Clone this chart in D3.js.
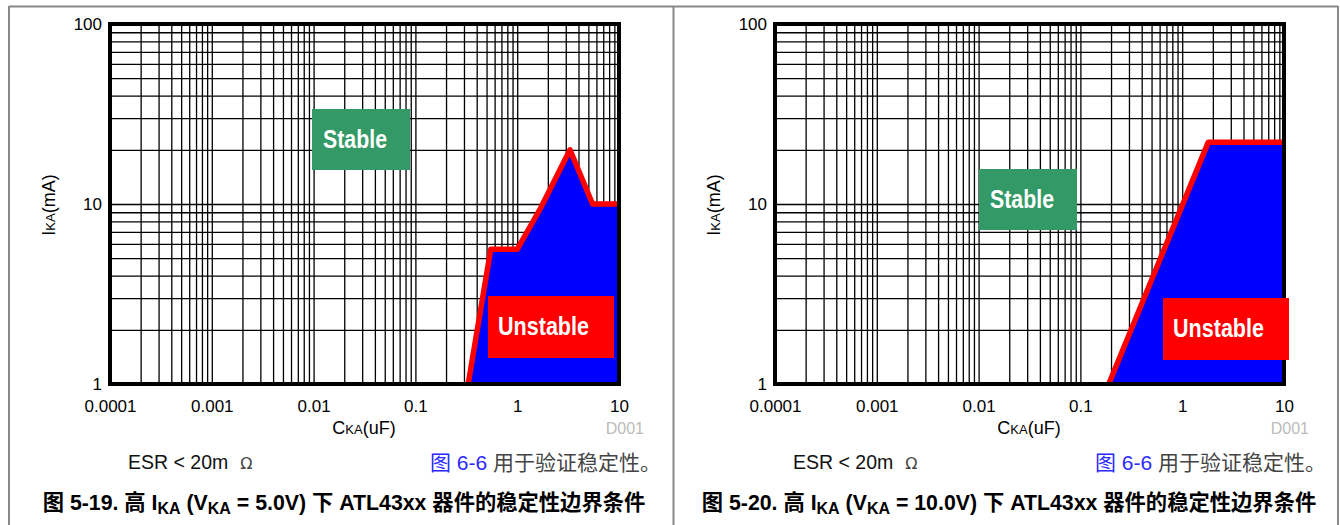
<!DOCTYPE html>
<html>
<head>
<meta charset="utf-8">
<script src="https://cdn.jsdelivr.net/npm/d3@7"></script>
<style>
  html, body { margin: 0; padding: 0; background: #fff; }
  svg { display: block; }
  .sans { font-family: "Liberation Sans", Arial, "Noto Sans CJK SC", sans-serif; }
  .cjk { font-family: "Liberation Sans", Arial, "Noto Sans CJK SC", sans-serif; }
  .narrow { font-family: "Liberation Sans", Arial, sans-serif; font-weight: bold; }
</style>
</head>
<body>
<svg id="chart" width="1340" height="525"></svg>
<script>
// ---- data ----
const capTicks = [0.0001, 0.001, 0.01, 0.1, 1, 10];
const capTickLabels = ["0.0001", "0.001", "0.01", "0.1", "1", "10"];
const ikaTicks = [1, 10, 100];
const ikaTickLabels = ["1", "10", "100"];

// boundary of the unstable region, figure 5-19 (VKA = 5.0V)
const capLeft = [0.33, 0.55, 1.0, 1.7, 3.3, 5.5, 10];
const ikaLeft = [1, 5.6, 5.6, 9.5, 20, 10, 10];

// boundary of the unstable region, figure 5-20 (VKA = 10.0V)
const capRight = [0.19, 0.53, 1.0, 1.8, 10];
const ikaRight = [1, 4.1, 9.8, 22, 22];

const captionNums = ["5-19", "5-20"];
const captionVka = ["5.0V", "10.0V"];

// ---- drawing ----
const svg = d3.select("#chart");

// outer table frame
svg.append("line").attr("x1", 9).attr("x2", 1338).attr("y1", 6.5).attr("y2", 6.5).attr("stroke", "#888").attr("stroke-width", 2);
svg.append("line").attr("x1", 9).attr("x2", 9).attr("y1", 6).attr("y2", 525).attr("stroke", "#888").attr("stroke-width", 2);
svg.append("line").attr("x1", 673.5).attr("x2", 673.5).attr("y1", 6).attr("y2", 525).attr("stroke", "#888").attr("stroke-width", 2);
svg.append("line").attr("x1", 1338).attr("x2", 1338).attr("y1", 6).attr("y2", 525).attr("stroke", "#888").attr("stroke-width", 2);

// minor grid values
const gridX = [];
for (let d = 0.0001; d < 9; d *= 10) for (let k = 1; k <= 9; k++) gridX.push(+(d * k).toPrecision(3));
gridX.push(10);
const gridY = [];
for (let d = 1; d < 90; d *= 10) for (let k = 1; k <= 9; k++) gridY.push(d * k);
gridY.push(100);

function panel(idx, offX, caps, ikas, stableBox, unstableBox) {
  const g = svg.append("g").attr("transform", `translate(${offX},0)`);
  const x = d3.scaleLog().domain([0.0001, 10]).range([110, 619]);
  const y = d3.scaleLog().domain([1, 100]).range([384, 24]);
  const clipId = "clip" + idx;
  g.append("clipPath").attr("id", clipId).append("rect")
    .attr("x", 110).attr("y", 24).attr("width", 509).attr("height", 360);

  // grid
  const gx = g.append("g").attr("transform", "translate(0,384)")
    .call(d3.axisBottom(x).tickValues(gridX).tickSize(-360).tickFormat(""));
  gx.select(".domain").remove();
  gx.selectAll("line").attr("stroke", "#000").attr("stroke-width", 1.3);
  const gy = g.append("g").attr("transform", "translate(110,0)")
    .call(d3.axisLeft(y).tickValues(gridY).tickSize(-509).tickFormat(""));
  gy.select(".domain").remove();
  gy.selectAll("line").attr("stroke", "#000").attr("stroke-width", 1.3);

  // unstable region
  const pts = caps.map((c, i) => [c, ikas[i]]);
  const area = d3.area().x(d => x(d[0])).y0(y(1)).y1(d => y(d[1]));
  g.append("path").datum(pts).attr("d", area).attr("fill", "#0000ff").attr("clip-path", `url(#${clipId})`);
  const line = d3.line().x(d => x(d[0])).y(d => y(d[1]));
  g.append("path").datum(pts).attr("d", line).attr("fill", "none")
    .attr("stroke", "#ff0000").attr("stroke-width", 5.5).attr("stroke-linejoin", "round")
    .attr("clip-path", `url(#${clipId})`);

  // frame
  g.append("rect").attr("x", 110).attr("y", 24).attr("width", 509).attr("height", 360)
    .attr("fill", "none").attr("stroke", "#000").attr("stroke-width", 4);

  // labels boxes
  const sb = g.append("g");
  sb.append("rect").attr("x", stableBox[0]).attr("y", stableBox[1]).attr("width", 98).attr("height", 61).attr("fill", "#339966");
  sb.append("text").attr("class", "narrow").attr("x", stableBox[0] + 11).attr("y", stableBox[1] + 39)
    .attr("font-size", 25).attr("fill", "#fff")
    .attr("textLength", 64).attr("lengthAdjust", "spacingAndGlyphs").text("Stable");
  const ub = g.append("g");
  ub.append("rect").attr("x", unstableBox[0]).attr("y", unstableBox[1]).attr("width", 126).attr("height", 62).attr("fill", "#ff0000");
  ub.append("text").attr("class", "narrow").attr("x", unstableBox[0] + 10).attr("y", unstableBox[1] + 39)
    .attr("font-size", 25).attr("fill", "#fff")
    .attr("textLength", 91).attr("lengthAdjust", "spacingAndGlyphs").text("Unstable");

  // axes labels
  const ax = g.append("g").attr("transform", "translate(0,384)")
    .call(d3.axisBottom(x).tickValues(capTicks).tickSize(0).tickPadding(16)
      .tickFormat((d, i) => capTickLabels[i]));
  ax.select(".domain").remove();
  ax.selectAll("text").attr("class", "sans").attr("font-size", 17).attr("fill", "#000");
  const ay = g.append("g").attr("transform", "translate(110,0)")
    .call(d3.axisLeft(y).tickValues(ikaTicks).tickSize(0).tickPadding(8)
      .tickFormat((d, i) => ikaTickLabels[i]));
  ay.select(".domain").remove();
  ay.selectAll("text").attr("class", "sans").attr("font-size", 17).attr("fill", "#000");

  // axis titles
  const xt = g.append("text").attr("class", "sans").attr("x", 364).attr("y", 434)
    .attr("text-anchor", "middle").attr("font-size", 18);
  xt.append("tspan").text("C");
  xt.append("tspan").attr("font-size", 13).text("KA");
  xt.append("tspan").text("(uF)");
  const yt = g.append("text").attr("class", "sans").attr("transform", "translate(55,205) rotate(-90)")
    .attr("text-anchor", "middle").attr("font-size", 18);
  yt.append("tspan").text("I");
  yt.append("tspan").attr("font-size", 13).text("KA");
  yt.append("tspan").text("(mA)");
  g.append("text").attr("class", "sans").attr("x", 644).attr("y", 434).attr("text-anchor", "end")
    .attr("font-size", 16).attr("fill", "#bbb").text("D001");

  // notes
  const esr = g.append("text").attr("class", "sans").attr("x", 128).attr("y", 469).attr("font-size", 19.5).attr("fill", "#111");
  esr.append("tspan").text("ESR < 20m");
  esr.append("tspan").attr("dx", 12).attr("font-size", 16).attr("fill", "#444").attr("font-family", "DejaVu Sans").text("Ω");
  const ref = g.append("text").attr("class", "cjk").attr("x", 661).attr("y", 470).attr("text-anchor", "end").attr("font-size", 21);
  ref.append("tspan").attr("fill", "#2a2aff").text("图 6-6");
  ref.append("tspan").attr("fill", "#444").text(" 用于验证稳定性。");

  // caption
  const cap = g.append("text").attr("class", "cjk").attr("x", 344).attr("y", 510).attr("text-anchor", "middle")
    .attr("font-size", 21.3).attr("font-weight", "bold").attr("fill", "#000");
  cap.append("tspan").text(`图 ${captionNums[idx]}. 高 I`);
  cap.append("tspan").attr("font-size", 16).attr("dy", 4).text("KA");
  cap.append("tspan").attr("dy", -4).text(" (V");
  cap.append("tspan").attr("font-size", 16).attr("dy", 4).text("KA");
  cap.append("tspan").attr("dy", -4).text(` = ${captionVka[idx]}) 下 ATL43xx 器件的稳定性边界条件`);
}

panel(0, 0, capLeft, ikaLeft, [312, 109], [488, 296]);
panel(1, 665, capRight, ikaRight, [314, 169], [498, 298]);
</script>
</body>
</html>
